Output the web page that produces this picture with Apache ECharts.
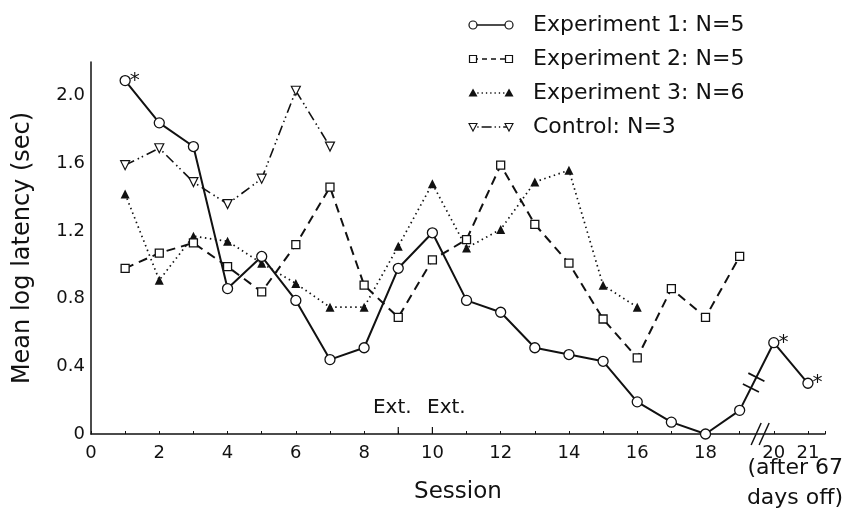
<!DOCTYPE html>
<html>
<head>
<meta charset="utf-8">
<script src="https://cdn.jsdelivr.net/npm/echarts@6/dist/echarts.min.js"></script>
<style>html,body{margin:0;padding:0;background:#fff}#c{width:847px;height:517px}</style>
</head>
<body>
<div id="c"></div>
<script>
// ---------- data ----------
const sessions = [1,2,3,4,5,6,7,8,9,10,11,12,13,14,15,16,17,18,19,20,21];
const exp1 = [2.09,1.84,1.70,0.86,1.05,0.79,0.44,0.51,0.98,1.19,0.79,0.72,0.51,0.47,0.43,0.19,0.07,0.00,0.14,0.54,0.30];
const exp2 = [0.98,1.07,1.13,0.99,0.84,1.12,1.46,0.88,0.69,1.03,1.15,1.59,1.24,1.01,0.68,0.45,0.86,0.69,1.05];
const exp3 = [1.42,0.91,1.17,1.14,1.01,0.89,0.75,0.75,1.11,1.48,1.10,1.21,1.49,1.56,0.88,0.75];
const control = [1.59,1.69,1.49,1.36,1.51,2.03,1.70];
const starredSessions = [1, 20, 21];
const extSessions = [9, 10];
const extLabels = ['Ext.', 'Ext.'];
const breakBetween = [19, 20];      // sessions between which Exp 1 line is broken
const axisBreakAt = 19.6;           // where the x axis break mark sits
const legendNames = ['Experiment 1: N=5', 'Experiment 2: N=5', 'Experiment 3: N=6', 'Control: N=3'];
const xTickLabels = [0,2,4,6,8,10,12,14,16,18,20,21];
const yTickLabels = [0,0.4,0.8,1.2,1.6,2.0];
const afterNote = ['(after 67', 'days off)'];

// ---------- styles ----------
const INK = '#111';
const FONT = 'DejaVu Sans';
const pairs = (vals) => vals.map((v, i) => [sessions[i], v]);

const lineStyles = [
  { type: 'solid', width: 2 },
  { type: [9, 6], width: 2 },
  { type: [1.5, 3.5], width: 1.7 },
  { type: [10, 4, 1.5, 3, 1.5, 4], width: 1.6 }
];

const chart = echarts.init(document.getElementById('c'), null, { renderer: 'canvas' });

const exp1Data = pairs(exp1).map((p) => {
  const item = { value: p };
  if (starredSessions.includes(p[0])) {
    item.label = { show: true, formatter: '*', position: 'right', distance: 1, offset: [-2, 0],
      fontSize: 20, fontFamily: FONT, color: INK };
  }
  return item;
});

function renderNotes(params, api) {
  const children = [];
  // longer ticks + "Ext." labels
  const extOffsets = [-6, 14];
  extSessions.forEach((s, i) => {
    const p = api.coord([s, 0]);
    children.push({ type: 'line', shape: { x1: p[0], y1: p[1], x2: p[0], y2: p[1] - 7 },
      style: { stroke: INK, lineWidth: 1.2 } });
    children.push({ type: 'text', x: p[0] + extOffsets[i], y: p[1] - 26,
      style: { text: extLabels[i], fill: INK, font: '20px "' + FONT + '"', align: 'center', verticalAlign: 'middle' } });
  });
  // x axis break "//"
  const b = api.coord([axisBreakAt, 0]);
  [-4, 4].forEach((d) => {
    children.push({ type: 'line', shape: { x1: b[0] + d - 5, y1: b[1] + 11, x2: b[0] + d + 5, y2: b[1] - 11 },
      style: { stroke: INK, lineWidth: 1.5 } });
  });
  // break in Exp 1 line between sessions 19 and 20
  const i0 = sessions.indexOf(breakBetween[0]);
  const i1 = sessions.indexOf(breakBetween[1]);
  const a = api.coord([breakBetween[0], exp1[i0]]);
  const c = api.coord([breakBetween[1], exp1[i1]]);
  const dx = c[0] - a[0], dy = c[1] - a[1];
  const len = Math.sqrt(dx * dx + dy * dy);
  const ux = dx / len, uy = dy / len;
  const nx = -uy, ny = ux;
  const t0 = 0.33, t1 = 0.49;
  const g0 = [a[0] + dx * t0, a[1] + dy * t0];
  const g1 = [a[0] + dx * t1, a[1] + dy * t1];
  children.push({ type: 'line', shape: { x1: g0[0], y1: g0[1], x2: g1[0], y2: g1[1] },
    style: { stroke: '#fff', lineWidth: 5 } });
  [g0, g1].forEach((g) => {
    children.push({ type: 'line', shape: { x1: g[0] - nx * 9, y1: g[1] - ny * 9, x2: g[0] + nx * 9, y2: g[1] + ny * 9 },
      style: { stroke: INK, lineWidth: 1.7 } });
  });
  return { type: 'group', children };
}

// ---------- legend (drawn as graphic) ----------
const legendGraphics = [];
const legendX0 = 473, legendX1 = 509, legendTextX = 533, legendY0 = 25, legendDy = 34;
legendNames.forEach((name, i) => {
  const y = legendY0 + i * legendDy;
  legendGraphics.push({ type: 'line', shape: { x1: legendX0, y1: y, x2: legendX1, y2: y },
    style: { stroke: INK, lineWidth: i < 2 ? 1.6 : 1.3, lineDash: i === 0 ? null : (i === 1 ? [5, 4] : (i === 2 ? [1.3, 3] : [1.3, 3, 1.3, 3, 10, 3])) } , z: 10});
  [legendX0, legendX1].forEach((x) => {
    let shape;
    if (i === 0) shape = { type: 'circle', shape: { cx: x, cy: y, r: 4 }, style: { fill: '#fff', stroke: INK, lineWidth: 1.2 } };
    else if (i === 1) shape = { type: 'rect', shape: { x: x - 3.5, y: y - 3.5, width: 7, height: 7 }, style: { fill: '#fff', stroke: INK, lineWidth: 1.2 } };
    else if (i === 2) shape = { type: 'polygon', shape: { points: [[x, y - 4.5], [x + 4.5, y + 3.5], [x - 4.5, y + 3.5]] }, style: { fill: INK } };
    else shape = { type: 'polygon', shape: { points: [[x - 4, y - 3.5], [x + 4, y - 3.5], [x, y + 4]] }, style: { fill: '#fff', stroke: INK, lineWidth: 1.1 } };
    shape.z = 11;
    legendGraphics.push(shape);
  });
  legendGraphics.push({ type: 'text', x: legendTextX, y: y, z: 10,
    style: { text: name, fill: INK, font: '22px "' + FONT + '"', verticalAlign: 'middle' } });
});
afterNote.forEach((t, i) => {
  legendGraphics.push({ type: 'text', right: 4, top: 457 + i * 30,
    style: { text: t, fill: INK, font: '22px "' + FONT + '"' } });
});

const option = {
  backgroundColor: '#fff',
  animation: false,
  grid: { left: 91, right: 22, top: 62, bottom: 83, containLabel: false },
  xAxis: {
    type: 'value', min: 0, max: 21.5, interval: 1,
    name: 'Session', nameLocation: 'middle', nameGap: 47,
    nameTextStyle: { fontFamily: FONT, fontSize: 23, color: INK },
    axisLine: { lineStyle: { color: INK, width: 1.5 } },
    axisTick: { show: true, inside: true, length: 3, lineStyle: { color: INK, width: 1 },
      interval: (idx, v) => xTickLabels.includes(v) },
    axisLabel: { fontFamily: FONT, fontSize: 18, color: INK, margin: 10,
      formatter: (v) => xTickLabels.includes(v) ? String(v) : '' },
    splitLine: { show: false }
  },
  yAxis: {
    type: 'value', min: 0, max: 2.2, interval: 0.4,
    name: 'Mean log latency (sec)', nameLocation: 'middle', nameGap: 56,
    nameTextStyle: { fontFamily: FONT, fontSize: 24, color: INK },
    axisLine: { show: true, lineStyle: { color: INK, width: 1.5 } },
    axisTick: { show: false },
    axisLabel: { fontFamily: FONT, fontSize: 18, color: INK, margin: 6,
      formatter: (v) => {
        const m = yTickLabels.find((t) => Math.abs(t - v) < 1e-6);
        if (m === undefined) return '';
        return m === 0 ? '0' : m.toFixed(1);
      } },
    splitLine: { show: false }
  },
  graphic: legendGraphics,
  series: [
    { name: legendNames[3], type: 'line', data: pairs(control), symbol: 'triangle', symbolRotate: 180, symbolSize: 9,
      lineStyle: Object.assign({ color: INK }, lineStyles[3]),
      itemStyle: { color: '#fff', borderColor: INK, borderWidth: 1.2 }, z: 2 },
    { name: legendNames[2], type: 'line', data: pairs(exp3), symbol: 'triangle', symbolSize: 9,
      lineStyle: Object.assign({ color: INK }, lineStyles[2]),
      itemStyle: { color: INK, borderColor: INK, borderWidth: 0 }, z: 3 },
    { name: legendNames[1], type: 'line', data: pairs(exp2), symbol: 'rect', symbolSize: 8,
      lineStyle: Object.assign({ color: INK }, lineStyles[1]),
      itemStyle: { color: '#fff', borderColor: INK, borderWidth: 1.3 }, z: 4 },
    { name: legendNames[0], type: 'line', data: exp1Data, symbol: 'circle', symbolSize: 10,
      lineStyle: Object.assign({ color: INK }, lineStyles[0]),
      itemStyle: { color: '#fff', borderColor: INK, borderWidth: 1.3 }, z: 6 },
    { name: 'notes', type: 'custom', data: [[0, 0]], renderItem: renderNotes, z: 5, silent: true }
  ]
};
chart.setOption(option);
</script>
</body>
</html>
